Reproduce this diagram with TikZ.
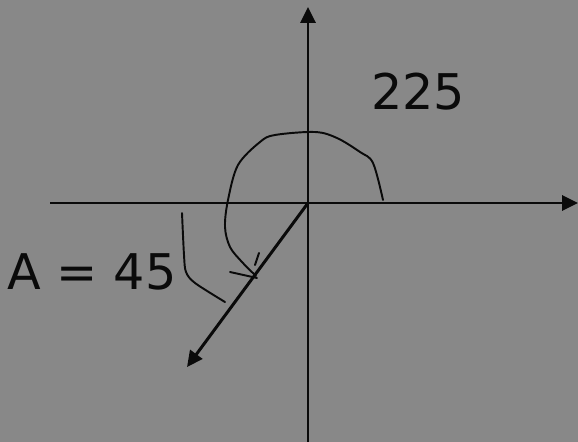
\documentclass[tikz,border=0pt]{standalone}
\usepackage{fontspec}
\setmainfont{DejaVu Sans}
\usetikzlibrary{arrows.meta}
\definecolor{slate}{RGB}{136,136,136}
\definecolor{ink}{RGB}{10,10,10}
\tikzset{
  >={Triangle[length=9pt,width=8.5pt]},
  axis/.style={->,draw=ink,line width=1.7pt},
  pen/.style={draw=ink,line width=1.1pt,line cap=round,line join=round},
  angtxt/.style={font=\fontsize{28}{32}\selectfont,text=ink,inner sep=0pt},
}
\begin{document}
\begin{tikzpicture}[x=0.02cm,y=-0.02cm]
  % background
  \fill[slate] (0,0) rectangle (578,442);
  \useasboundingbox (0,0) rectangle (578,442);
  % axes
  \coordinate (O) at (308,203);
  \coordinate (xl) at (50,203);
  \coordinate (xr) at (578,203);
  \coordinate (yb) at (308,442);
  \coordinate (yt) at (308,7);
  \coordinate (rt) at (187,367);
  \draw[axis] (xl) -- (xr);
  \draw[axis] (yb) -- (yt);
  \draw[axis] (O) -- (rt);
  % hand drawn arc for 225
  \draw[pen] plot[smooth,tension=0.55] coordinates {(383,200) (373,163) (360,152) (337,138) (315,132) (275,135) (260,142) (238,165) (228,200) (225,227) (230,247) (242,262) (256,276)};
  \coordinate (h1) at (230,272);
  \coordinate (h2) at (257,278);
  \draw[pen] (h1) -- (h2);
  \coordinate (k1) at (255,265);
  \coordinate (k2) at (259,253);
  \draw[pen] (k1) -- (k2);
  % reference angle mark
  \draw[pen] plot[smooth,tension=0.5] coordinates {(182,213) (184,255) (186,272) (195,283) (225,302)};
  % labels
  \node[angtxt] (big) at (418,92) {225};
  \node[angtxt] (ref) at (92,272) {A = 45};
\end{tikzpicture}
\end{document}
